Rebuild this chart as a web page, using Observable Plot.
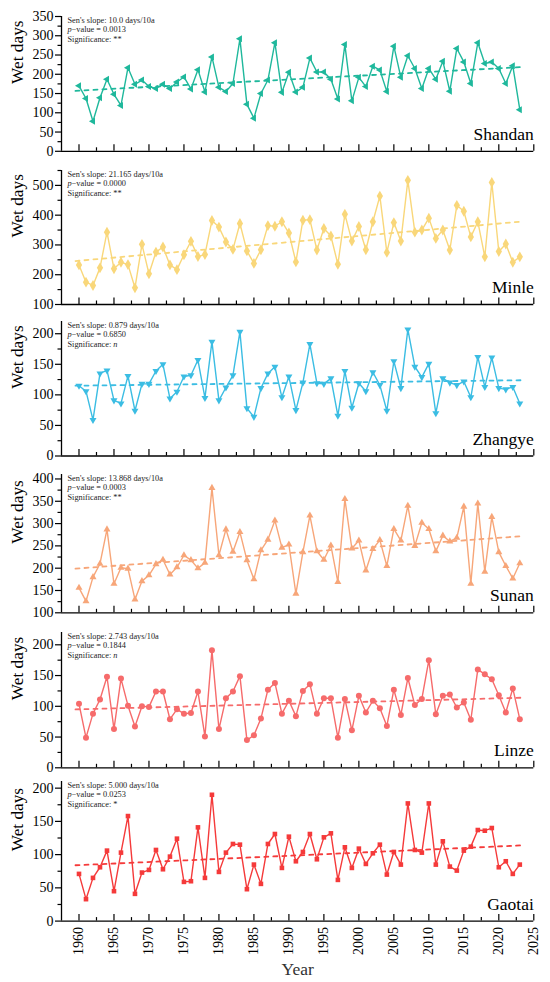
<!DOCTYPE html>
<html><head><meta charset="utf-8">
<script src="https://cdn.jsdelivr.net/npm/d3@7"></script>
<script src="https://cdn.jsdelivr.net/npm/@observablehq/plot@0.6"></script>
<style>
html,body{margin:0;padding:0;background:#fff;}
#chart{position:relative;width:550px;height:982px;overflow:hidden;}
#chart svg{position:absolute;left:0;overflow:visible;}
#chart svg, #chart svg text, #chart svg tspan{font-family:"Liberation Serif","DejaVu Serif",serif !important;}
</style></head><body><div id="chart"></div>
<script>
const years = [1960,1961,1962,1963,1964,1965,1966,1967,1968,1969,1970,1971,1972,1973,1974,1975,1976,1977,1978,1979,1980,1981,1982,1983,1984,1985,1986,1987,1988,1989,1990,1991,1992,1993,1994,1995,1996,1997,1998,1999,2000,2001,2002,2003,2004,2005,2006,2007,2008,2009,2010,2011,2012,2013,2014,2015,2016,2017,2018,2019,2020,2021,2022,2023];

const shandan = [170,137,78,139,187,148,119,217,174,185, 168,163,174,163,180,193,162,212,154,245, 166,155,176,292,122,86,150,185,282,153, 205,154,166,242,206,206,187,136,277,131, 192,168,221,211,155,273,192,248,215,163, 215,187,234,156,267,232,176,282,228,232, 215,176,222,108];
const minle = [233,175,164,223,343,220,242,234,156,302, 203,276,293,233,217,267,312,261,268,382, 360,310,285,372,280,238,284,365,363,378, 340,243,383,385,283,355,330,235,403,313, 362,284,378,464,275,375,313,517,343,350, 390,322,350,283,433,413,327,378,260,510, 278,303,242,260];
const zhangye = [115,106,59,135,140,91,86,131,74,118, 118,139,150,94,105,130,132,157,95,187, 91,112,132,203,78,64,111,135,146,96, 130,75,120,183,119,118,127,66,139,79, 119,106,137,116,74,155,111,207,146,129, 151,70,127,120,116,122,96,162,113,161, 111,109,113,86];
const sunan = [156,126,180,210,287,165,201,199,130,171, 184,209,219,186,202,229,218,200,212,380, 229,287,237,281,218,175,240,264,307,246, 253,143,236,318,238,219,251,169,355,244, 262,195,243,263,205,288,262,340,250,302, 288,238,273,260,268,338,165,345,192,315, 236,205,177,211];
const linze = [104,49,88,111,148,63,145,101,67,100, 99,124,124,79,95,88,89,124,51,191, 63,113,124,149,45,53,80,127,138,88, 109,84,125,136,88,113,113,49,112,61, 117,90,109,97,68,127,86,146,102,112, 175,87,117,119,98,106,78,160,152,144, 118,90,129,79];
const gaotai = [71,33,65,81,106,45,103,158,41,73, 77,107,78,97,124,59,60,141,65,190, 74,103,116,115,48,85,56,116,131,80, 127,90,104,131,93,126,132,62,111,80, 109,86,102,115,70,104,85,177,107,103, 177,85,120,82,76,106,112,137,136,140, 81,90,71,85];

const stations = ["Shandan","Minle","Zhangye","Sunan","Linze","Gaotai"];
const series = [shandan, minle, zhangye, sunan, linze, gaotai];
const slopes = ["10.0","21.165","0.879","13.868","2.743","5.000"];
const pValues = ["0.0013","0.0000","0.6850","0.0003","0.1844","0.0253"];
const significance = ["**","**","n","**","n","*"];

const trendYears = [1959.5, 2023.5];
const trendShandan = [157, 219];
const trendMinle = [246, 379];
const trendZhangye = [115, 124];
const trendSunan = [199, 272];
const trendLinze = [95, 114];
const trendGaotai = [84, 114];
const trends = [trendShandan, trendMinle, trendZhangye, trendSunan, trendLinze, trendGaotai];

const xMajor = [1960,1965,1970,1975,1980,1985,1990,1995,2000,2005,2010,2015,2020,2025];
const xMinor = [1962.5,1967.5,1972.5,1977.5,1982.5,1987.5,1992.5,1997.5,2002.5,2007.5,2012.5,2017.5,2022.5];
const yDomains = [[0,350],[100,550],[0,220],[100,410],[0,220],[0,210]];
const yMajor = [
  [0,50,100,150,200,250,300,350],
  [100,200,300,400,500],
  [0,50,100,150,200],
  [100,150,200,250,300,350,400],
  [0,50,100,150,200],
  [0,50,100,150,200]
];
const yMinor = [
  [25,75,125,175,225,275,325],
  [150,250,350,450,550],
  [25,75,125,175],
  [125,175,225,275,325,375],
  [25,75,125,175],
  [25,75,125,175]
];

const colors = ["#1fb89c","#f9d77a","#3bbde3","#f7a679","#f66b6b","#f53a3a"];

function triSymbol(angle, k = 1.35) {
  return {draw(ctx, size) {
    const r = Math.sqrt(size / Math.PI) * k;
    for (let i = 0; i < 3; i++) {
      const a = angle + i * 2 * Math.PI / 3;
      const px = r * Math.cos(a), py = r * Math.sin(a);
      if (i) ctx.lineTo(px, py); else ctx.moveTo(px, py);
    }
    ctx.closePath();
  }};
}
const symbols = [triSymbol(Math.PI), "diamond", triSymbol(Math.PI / 2), triSymbol(-Math.PI / 2), "circle", "square"];
const dotR = [3.0, 3.3, 3.0, 3.0, 3.0, 2.6];

const panelTop = [16, 170, 321, 473.7, 631.7, 780.7];
const panelBottom = [150.8, 304, 455.5, 612, 767, 920.3];
const serif = "'Liberation Serif', 'DejaVu Serif', serif";
const chart = document.getElementById("chart");

stations.forEach((name, i) => {
  const last = i === stations.length - 1;
  const mt = 10, mb = last ? 62 : 10;
  const innerH = panelBottom[i] - panelTop[i];
  const height = innerH + mt + mb;
  const rows = years.map((yr, j) => ({year: yr, v: series[i][j]}));
  const trendRows = trendYears.map((yr, j) => ({year: yr, v: trends[i][j]}));
  const c = colors[i];
  const txt = {fontFamily: serif};
  const marks = [
    Plot.axisY(yMajor[i], {tickSize: 6, tickPadding: 2, fontSize: 14, label: null, strokeWidth: 1.2, fontFamily: serif, tickFormat: d => String(d)}),
    Plot.axisY(yMinor[i], {tickSize: 3.5, tickFormat: () => "", label: null, strokeWidth: 1.2}),
    Plot.tickX(xMajor, {x: d => d, insetTop: innerH - 6.5, strokeWidth: 1.2}),
    Plot.tickX(xMinor, {x: d => d, insetTop: innerH - 3.5, strokeWidth: 1.2}),
    Plot.ruleX([1957.5], {strokeWidth: 1.3}),
    Plot.ruleY([yDomains[i][0]], {strokeWidth: 1.3}),
    Plot.line(trendRows, {x: "year", y: "v", stroke: c, strokeWidth: 1.8, strokeDasharray: "4,5"}),
    Plot.line(rows, {x: "year", y: "v", stroke: c, strokeWidth: 1.4}),
    Plot.dot(rows, {x: "year", y: "v", fill: c, r: dotR[i], symbol: symbols[i], stroke: "none"}),
    Plot.text([`Sen's slope: ${slopes[i]} days/10a`], {...txt, frameAnchor: "top-left", textAnchor: "start", lineAnchor: "middle", dx: 6, dy: 3.5, fontSize: 8.3, fill: "#222"}),
    Plot.text([`p\u2212value = ${pValues[i]}`], {...txt, frameAnchor: "top-left", textAnchor: "start", lineAnchor: "middle", dx: 6, dy: 13, fontSize: 8.3, fill: "#222"}),
    Plot.text([`Significance: ${significance[i]}`], {...txt, frameAnchor: "top-left", textAnchor: "start", lineAnchor: "middle", dx: 6, dy: 22.5, fontSize: 8.3, fill: "#222"}),
    Plot.text([name], {...txt, frameAnchor: "bottom-right", textAnchor: "end", lineAnchor: "bottom", dy: -11.5, fontSize: 17.5, fill: "#000"}),
    Plot.text(["Wet days"], {...txt, frameAnchor: "left", rotate: -90, dx: -44, fontSize: 17.3, fill: "#000"})
  ];
  if (last) {
    marks.push(Plot.axisX(xMajor, {tickSize: 0, tickPadding: 6, tickRotate: -90, fontSize: 14, label: null, fontFamily: serif, tickFormat: d => String(d)}));
    marks.push(Plot.text(["Year"], {...txt, frameAnchor: "bottom", lineAnchor: "middle", dy: 48.5, fontSize: 17.5, fill: "#333"}));
  }
  const svg = Plot.plot({
    width: 550, height,
    marginTop: mt, marginBottom: mb, marginLeft: 61, marginRight: 16.7,
    x: {domain: [1957.5, 2025], axis: null, label: null},
    y: {domain: yDomains[i], axis: null, label: null},
    style: {fontFamily: serif, background: "transparent", color: "#000"},
    marks
  });
  svg.style.top = (panelTop[i] - mt) + "px";
  svg.querySelectorAll("text").forEach(t => {
    const s = t.textContent;
    if (s.startsWith("p\u2212value")) {
      t.innerHTML = `<tspan font-style="italic">p</tspan>${s.slice(1)}`;
    } else if (s === "Significance: n") {
      t.innerHTML = `Significance: <tspan font-style="italic">n</tspan>`;
    }
  });
  chart.appendChild(svg);
});
</script></body></html>
